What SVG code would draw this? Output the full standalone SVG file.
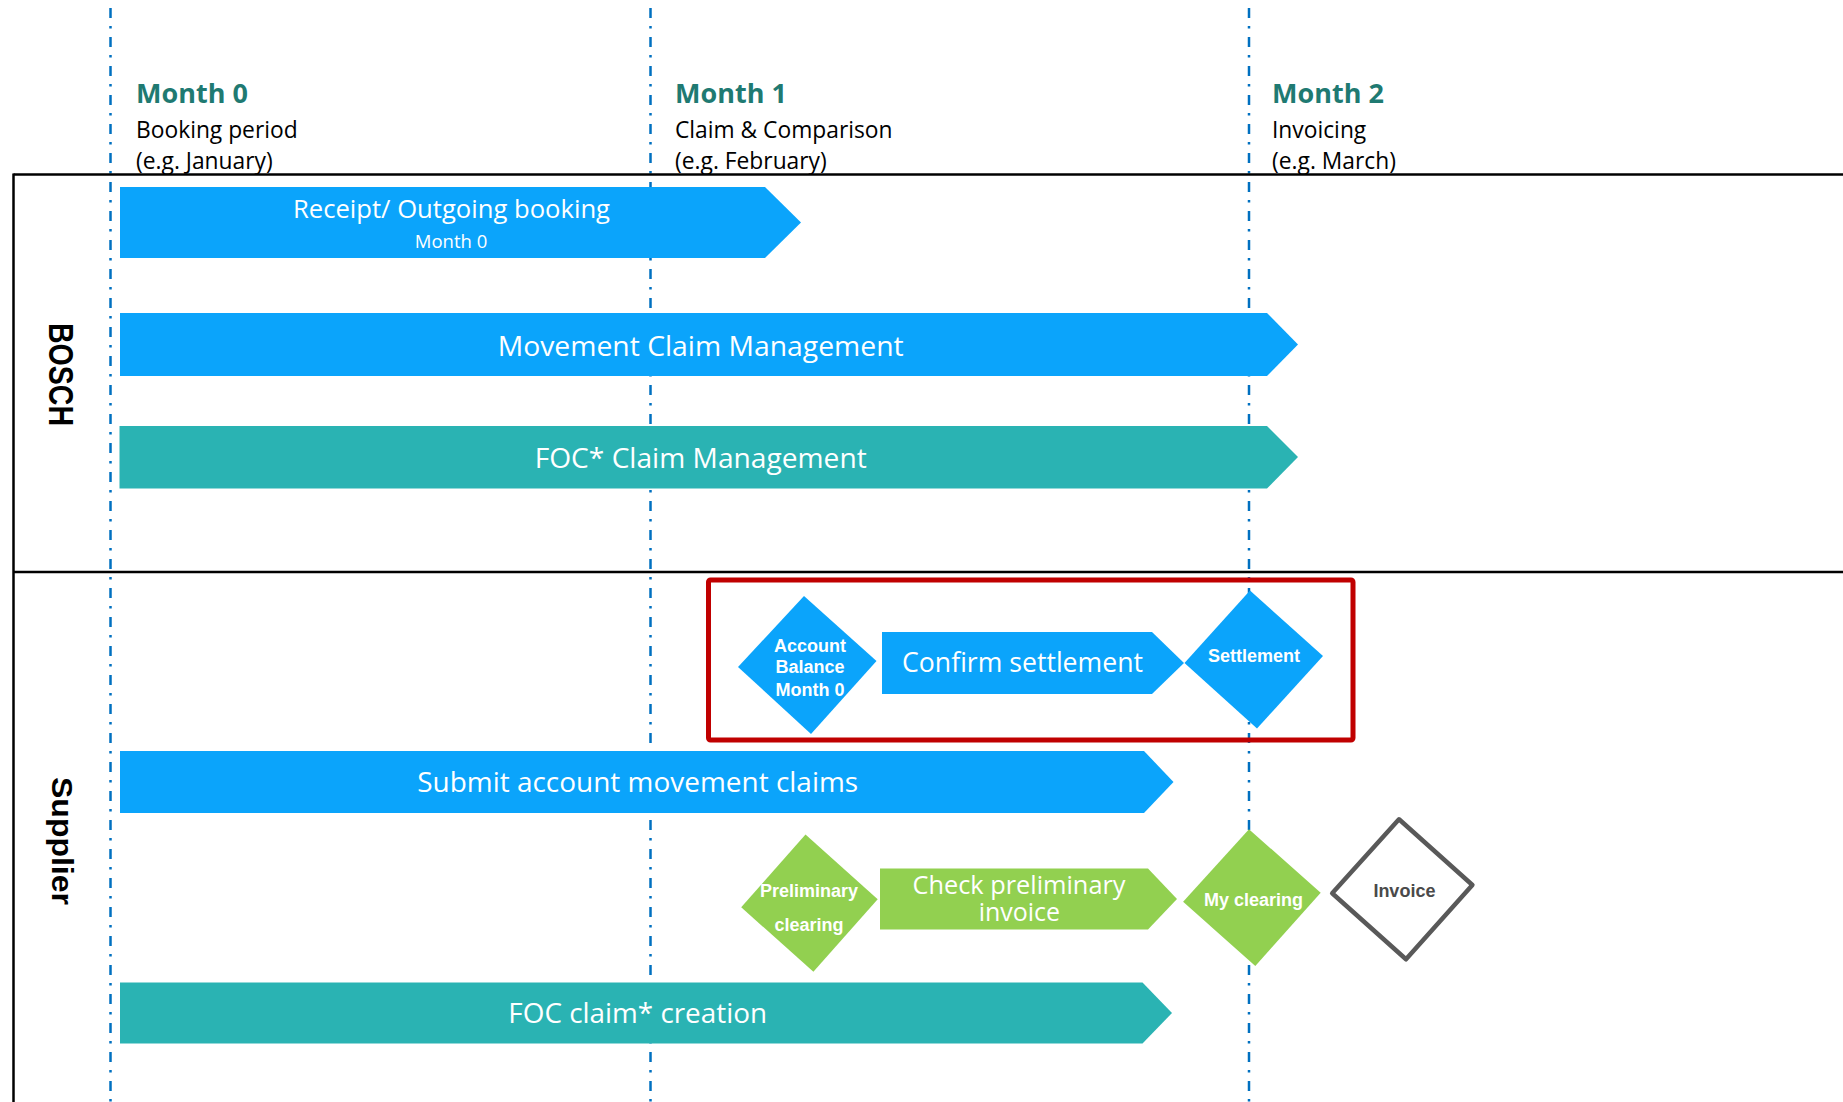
<svg xmlns="http://www.w3.org/2000/svg" width="1843" height="1102" viewBox="0 0 1843 1102">
<style>
.grid{stroke:#0070C0;stroke-width:2.5;stroke-dasharray:10 8 2.5 8.5;fill:none}
.lane{stroke:#000;stroke-width:2.5;fill:none}
.blue{fill:#0ba4fb}
.teal{fill:#2ab3b3}
.green{fill:#92d050}
.bt{font-family:"Open Sans","Liberation Sans",sans-serif;fill:#fff;text-anchor:middle}
.dt{font-family:"Liberation Sans",Arial,sans-serif;font-weight:bold;font-size:18px;fill:#fff;text-anchor:middle}
.mh{font-family:"Open Sans","Liberation Sans",sans-serif;font-weight:bold;font-size:27px;fill:#1f7a72}
.ms{font-family:"Open Sans","Liberation Sans",sans-serif;font-size:22.8px;fill:#000}
.ll{font-family:"Liberation Sans",Arial,sans-serif;font-weight:bold;fill:#000;text-anchor:middle}
</style>
<g id="grid">
<line class="grid" x1="110.5" y1="8" x2="110.5" y2="1102"/>
<line class="grid" x1="650.5" y1="8" x2="650.5" y2="1102"/>
<line class="grid" x1="1249" y1="8" x2="1249" y2="1102"/>
</g>
<g id="lanes">
<line class="lane" x1="13.5" y1="174.5" x2="1843" y2="174.5"/>
<line class="lane" x1="13.5" y1="572" x2="1843" y2="572"/>
<line class="lane" x1="13.5" y1="173.5" x2="13.5" y2="1102"/>
<text class="ll" font-size="35" textLength="103" lengthAdjust="spacingAndGlyphs" transform="translate(48.5,374.5) rotate(90)">BOSCH</text>
<text class="ll" font-size="30" textLength="128" lengthAdjust="spacingAndGlyphs" transform="translate(51.7,841) rotate(90)">Supplier</text>
</g>
<g id="headers">
<text class="mh" x="136" y="102.7">Month 0</text>
<text class="ms" x="136" y="137.5">Booking period</text>
<text class="ms" x="136" y="169">(e.g. January)</text>
<text class="mh" x="675" y="102.7">Month 1</text>
<text class="ms" x="675" y="137.5">Claim &amp; Comparison</text>
<text class="ms" x="675" y="169">(e.g. February)</text>
<text class="mh" x="1272" y="102.7">Month 2</text>
<text class="ms" x="1272" y="137.5">Invoicing</text>
<text class="ms" x="1272" y="169">(e.g. March)</text>
</g>
<g id="receipt">
<polygon class="blue" points="120,187 765,187 801,222.5 765,258 120,258"/>
<text class="bt" x="451.5" y="218" font-size="26" textLength="317" lengthAdjust="spacingAndGlyphs">Receipt/ Outgoing booking</text>
<text class="bt" x="451" y="248" font-size="18.5">Month 0</text>
</g>
<g id="movement-claim">
<polygon class="blue" points="120,313 1267,313 1298,344.5 1267,376 120,376"/>
<text class="bt" x="700.7" y="356" font-size="28" textLength="406" lengthAdjust="spacingAndGlyphs">Movement Claim Management</text>
</g>
<g id="foc-claim-mgmt">
<polygon class="teal" points="119.5,426 1267,426 1298,457 1267,488.5 119.5,488.5"/>
<text class="bt" x="700.7" y="468" font-size="28" textLength="332" lengthAdjust="spacingAndGlyphs">FOC* Claim Management</text>
</g>
<g id="highlight">
<rect x="708.5" y="580" width="644.5" height="160" rx="2" fill="none" stroke="#c00000" stroke-width="5"/>
</g>
<g id="account-balance">
<polygon class="blue" points="804,596 876.5,661 811,734 738,667"/>
<text class="dt" x="810" y="651.7">Account</text>
<text class="dt" x="810" y="673.3">Balance</text>
<text class="dt" x="810" y="696">Month 0</text>
</g>
<g id="confirm-settlement">
<polygon class="blue" points="882,632 1152,632 1184,663 1152,694 882,694"/>
<text class="bt" x="1022.5" y="671.7" font-size="26.6" textLength="241" lengthAdjust="spacingAndGlyphs">Confirm settlement</text>
</g>
<g id="settlement">
<polygon class="blue" points="1250,590.5 1323,656 1257,728.5 1184.5,663"/>
<text class="dt" x="1254" y="661.7">Settlement</text>
</g>
<g id="submit-claims">
<polygon class="blue" points="120,751 1144,751 1173.5,782 1144,813 120,813"/>
<text class="bt" x="637.7" y="791.7" font-size="28" textLength="441" lengthAdjust="spacingAndGlyphs">Submit account movement claims</text>
</g>
<g id="preliminary-clearing">
<polygon class="green" points="805.5,834.5 877.7,899.3 813.4,971.7 741.2,907.3"/>
<text class="dt" x="809" y="897.3">Preliminary</text>
<text class="dt" x="809" y="930.7">clearing</text>
</g>
<g id="check-invoice">
<polygon class="green" points="880,868.5 1148,868.5 1177,899 1148,929.5 880,929.5"/>
<text class="bt" x="1019" y="894.3" font-size="25" textLength="213" lengthAdjust="spacingAndGlyphs">Check preliminary</text>
<text class="bt" x="1019.4" y="920.7" font-size="25">invoice</text>
</g>
<g id="my-clearing">
<polygon class="green" points="1249,829.3 1320.7,892.7 1255.3,966 1183.1,901.7"/>
<text class="dt" x="1253.5" y="906">My clearing</text>
</g>
<g id="invoice">
<polygon points="1399,819.3 1472.4,885 1406,959.3 1332.2,893.3" fill="#fff" stroke="#595959" stroke-width="4.5" stroke-linejoin="round"/>
<text class="dt" x="1404.4" y="896.7" style="fill:#4a4a4a">Invoice</text>
</g>
<g id="foc-claim-creation">
<polygon class="teal" points="120,982.5 1142.5,982.5 1172,1013 1142.5,1043.5 120,1043.5"/>
<text class="bt" x="637.7" y="1023.3" font-size="28" textLength="258.7" lengthAdjust="spacingAndGlyphs">FOC claim* creation</text>
</g>
<g id="connectors"></g>
</svg>
